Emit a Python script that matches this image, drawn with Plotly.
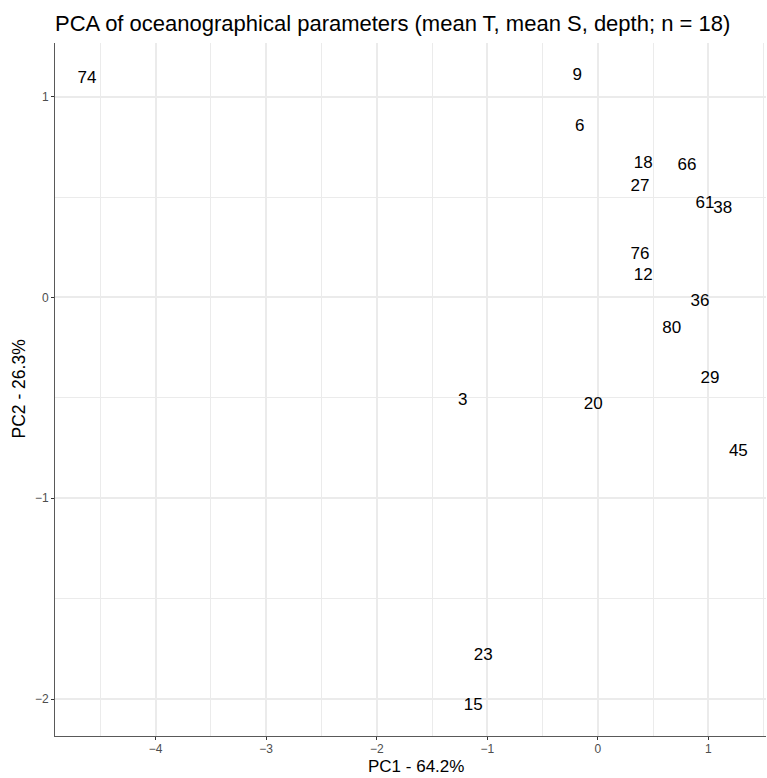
import plotly.graph_objects as go

# PCA scores of the 18 stations
stations = ["74", "9", "6", "18", "66", "27", "61", "38", "76", "12",
            "36", "80", "29", "3", "20", "45", "23", "15"]
pc1 = [-4.622, -0.186, -0.164, 0.412, 0.807, 0.382, 0.970, 1.130, 0.382, 0.412,
       0.925, 0.669, 1.015, -1.223, -0.041, 1.272, -1.036, -1.127]
pc2 = [1.088, 1.105, 0.848, 0.665, 0.656, 0.549, 0.469, 0.444, 0.215, 0.109,
       -0.021, -0.158, -0.407, -0.514, -0.535, -0.768, -1.784, -2.034]

x_ticks = [-4, -3, -2, -1, 0, 1]
y_ticks = [-2, -1, 0, 1]

FONT = "Liberation Sans, Arial, Helvetica, sans-serif"
GRID = "#EBEBEB"

fig = go.Figure(
    go.Scatter(
        x=pc1, y=pc2, text=stations, mode="text",
        textposition="middle center",
        textfont=dict(family=FONT, size=17, color="black"),
        hoverinfo="skip", showlegend=False,
    )
)

axis_common = dict(
    showline=True, linecolor="#595959", linewidth=1,
    ticks="outside", ticklen=3, tickcolor="#333333", tickwidth=1,
    tickfont=dict(family=FONT, size=12, color="#4D4D4D"),
    showgrid=True, gridcolor=GRID, gridwidth=1.5,
    zeroline=False, mirror=False,
)

fig.update_xaxes(
    range=[-4.911, 1.522], tickvals=x_ticks, ticklabelstandoff=-1,
    minor=dict(dtick=0.5, tick0=0, showgrid=True, gridcolor=GRID, gridwidth=0.8, ticks=""),
    **axis_common,
)
fig.update_yaxes(
    range=[-2.184, 1.267], tickvals=y_ticks,
    minor=dict(dtick=0.5, tick0=0, showgrid=True, gridcolor=GRID, gridwidth=0.8, ticks=""),
    **axis_common,
)

fig.update_layout(
    width=767, height=778,
    margin=dict(l=55, r=1, t=43, b=42),
    paper_bgcolor="white", plot_bgcolor="white",
    title=dict(
        text="PCA of oceanographical parameters (mean T, mean S, depth; n = 18)",
        x=55 / 767, xanchor="left", xref="container",
        y=1 - 23 / 778, yanchor="middle", yref="container",
        font=dict(family=FONT, size=22, color="black"),
    ),
    annotations=[
        dict(text="PC1 - 64.2%", xref="paper", yref="paper",
             x=0.508, y=0, yshift=-41, xanchor="center", yanchor="bottom",
             borderpad=0,
             showarrow=False, font=dict(family=FONT, size=17, color="black")),
        dict(text="PC2 - 26.3%", xref="paper", yref="paper",
             x=-0.052, y=0.5, xanchor="center", yanchor="middle", textangle=-90,
             showarrow=False, font=dict(family=FONT, size=17.5, color="black")),
    ],
)

fig.write_html("out.html")
